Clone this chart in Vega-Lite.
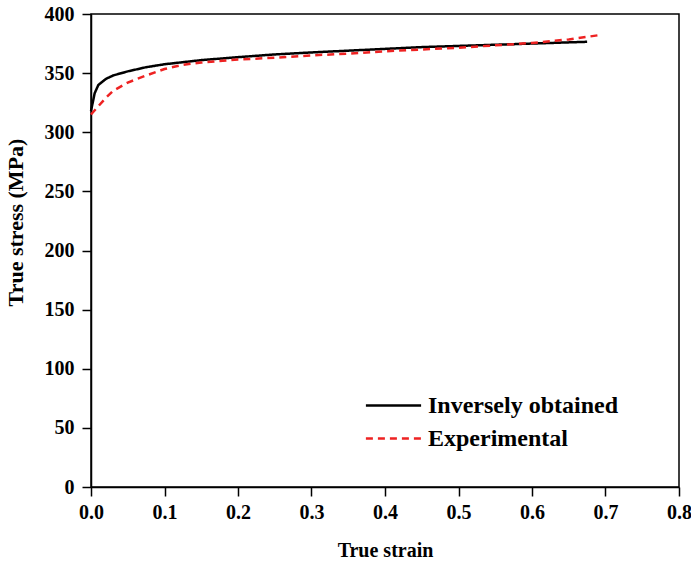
{
  "$schema": "https://vega.github.io/schema/vega-lite/v6.json",
  "width": 588,
  "height": 473,
  "autosize": "none",
  "padding": {"left": 91, "top": 14, "right": 12, "bottom": 77},
  "background": "white",
  "config": {
    "view": {"stroke": "black", "strokeWidth": 1.5},
    "font": "Liberation Serif",
    "axis": {
      "domainColor": "black", "domainWidth": 1.5, "tickColor": "black", "tickWidth": 1.5, "tickSize": 9,
      "labelFont": "Liberation Serif", "labelFontWeight": "bold", "labelFontSize": 20, "labelColor": "black",
      "titleFont": "Liberation Serif", "titleFontWeight": "bold", "titleFontSize": 20, "titleColor": "black",
      "grid": false, "labelFlush": false
    }
  },
  "data": {"values": [
    {"strain": 0, "stress": 318, "series": "Inversely obtained"},
    {"strain": 0.005, "stress": 333, "series": "Inversely obtained"},
    {"strain": 0.01, "stress": 340, "series": "Inversely obtained"},
    {"strain": 0.02, "stress": 345, "series": "Inversely obtained"},
    {"strain": 0.03, "stress": 348, "series": "Inversely obtained"},
    {"strain": 0.05, "stress": 351.5, "series": "Inversely obtained"},
    {"strain": 0.075, "stress": 355, "series": "Inversely obtained"},
    {"strain": 0.1, "stress": 357.5, "series": "Inversely obtained"},
    {"strain": 0.15, "stress": 361, "series": "Inversely obtained"},
    {"strain": 0.2, "stress": 363.5, "series": "Inversely obtained"},
    {"strain": 0.25, "stress": 365.8, "series": "Inversely obtained"},
    {"strain": 0.3, "stress": 367.5, "series": "Inversely obtained"},
    {"strain": 0.35, "stress": 369, "series": "Inversely obtained"},
    {"strain": 0.4, "stress": 370.5, "series": "Inversely obtained"},
    {"strain": 0.45, "stress": 372, "series": "Inversely obtained"},
    {"strain": 0.5, "stress": 373, "series": "Inversely obtained"},
    {"strain": 0.55, "stress": 374, "series": "Inversely obtained"},
    {"strain": 0.6, "stress": 375, "series": "Inversely obtained"},
    {"strain": 0.675, "stress": 376.5, "series": "Inversely obtained"},
    {"strain": 0, "stress": 315, "series": "Experimental"},
    {"strain": 0.01, "stress": 322, "series": "Experimental"},
    {"strain": 0.02, "stress": 329, "series": "Experimental"},
    {"strain": 0.03, "stress": 335, "series": "Experimental"},
    {"strain": 0.05, "stress": 342, "series": "Experimental"},
    {"strain": 0.075, "stress": 348, "series": "Experimental"},
    {"strain": 0.1, "stress": 353.5, "series": "Experimental"},
    {"strain": 0.125, "stress": 357, "series": "Experimental"},
    {"strain": 0.15, "stress": 359, "series": "Experimental"},
    {"strain": 0.2, "stress": 361.5, "series": "Experimental"},
    {"strain": 0.25, "stress": 363, "series": "Experimental"},
    {"strain": 0.3, "stress": 365, "series": "Experimental"},
    {"strain": 0.35, "stress": 366.5, "series": "Experimental"},
    {"strain": 0.4, "stress": 368.5, "series": "Experimental"},
    {"strain": 0.45, "stress": 370, "series": "Experimental"},
    {"strain": 0.5, "stress": 371.5, "series": "Experimental"},
    {"strain": 0.55, "stress": 373.5, "series": "Experimental"},
    {"strain": 0.6, "stress": 375.5, "series": "Experimental"},
    {"strain": 0.65, "stress": 378.5, "series": "Experimental"},
    {"strain": 0.69, "stress": 382, "series": "Experimental"}
  ]},
  "mark": {"type": "line", "strokeWidth": 2.5},
  "encoding": {
    "x": {"field": "strain", "type": "quantitative", "title": "True strain",
      "scale": {"domain": [0, 0.8], "nice": false},
      "axis": {"values": [0, 0.1, 0.2, 0.3, 0.4, 0.5, 0.6, 0.7, 0.8], "format": ".1f", "labelPadding": 6, "titlePadding": 18}},
    "y": {"field": "stress", "type": "quantitative", "title": "True stress (MPa)",
      "scale": {"domain": [0, 400], "nice": false},
      "axis": {"values": [0, 50, 100, 150, 200, 250, 300, 350, 400], "labelPadding": 8, "titleFontSize": 22, "titleX": -64, "titleY": 208}},
    "color": {"field": "series", "type": "nominal",
      "scale": {"domain": ["Inversely obtained", "Experimental"], "range": ["black", "#ee2222"]},
      "legend": {"title": null, "orient": "none", "legendX": 289, "legendY": 378,
        "symbolType": "M-2.3,0H2.3", "symbolSize": 576, "symbolStrokeWidth": 2.5,
        "labelFont": "Liberation Serif", "labelFontWeight": "bold", "labelFontSize": 24, "labelColor": "black",
        "labelLimit": 400, "rowPadding": 7, "labelOffset": 21}},
    "strokeDash": {"field": "series", "type": "nominal",
      "scale": {"domain": ["Inversely obtained", "Experimental"], "range": [[1, 0], [7, 5]]},
      "legend": null},
    "order": {"field": "strain", "type": "quantitative"}
  }
}
